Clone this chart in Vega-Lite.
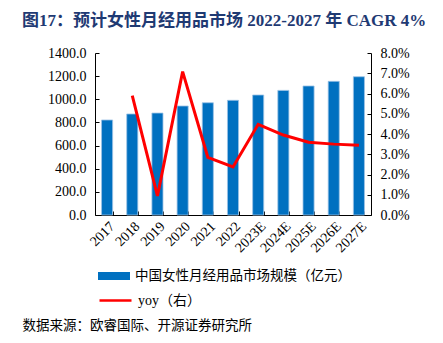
{
  "$schema": "https://vega.github.io/schema/vega-lite/v6.json",
  "autosize": "none",
  "width": 276,
  "height": 162,
  "padding": {"left": 95, "top": 53, "right": 72, "bottom": 128},
  "background": "white",
  "title": {
    "text": "图17：预计女性月经用品市场 2022-2027 年 CAGR 4%",
    "anchor": "start",
    "frame": "group",
    "dx": -73,
    "font": "Liberation Serif, Noto Sans CJK SC",
    "fontSize": 17,
    "fontWeight": "bold",
    "color": "#1F3A73",
    "offset": 16
  },
  "config": {
    "view": {"stroke": null},
    "axis": {
      "labelFont": "Liberation Serif",
      "labelFontSize": 14,
      "labelColor": "#000000",
      "domainColor": "#000000",
      "tickColor": "#000000",
      "grid": false
    }
  },
  "data": {
    "values": [
      {"year": "2017", "value": 821, "yoy": null},
      {"year": "2018", "value": 873, "yoy": 0.0589},
      {"year": "2019", "value": 881, "yoy": 0.0094},
      {"year": "2020", "value": 942, "yoy": 0.0708},
      {"year": "2021", "value": 970, "yoy": 0.0285},
      {"year": "2022", "value": 991, "yoy": 0.0237},
      {"year": "2023E", "value": 1037, "yoy": 0.0448},
      {"year": "2024E", "value": 1077, "yoy": 0.0395},
      {"year": "2025E", "value": 1115, "yoy": 0.0359},
      {"year": "2026E", "value": 1155, "yoy": 0.035},
      {"year": "2027E", "value": 1195, "yoy": 0.0345}
    ]
  },
  "encoding": {
    "x": {
      "field": "year",
      "type": "ordinal",
      "sort": null,
      "scale": {"paddingInner": 0.56, "paddingOuter": 0.26},
      "axis": {
        "labelAngle": -45,
        "tickBand": "extent",
        "tickSize": -4,
        "labelPadding": 8,
        "title": "数据来源：欧睿国际、开源证券研究所",
        "titleX": -73,
        "titleY": 110,
        "titleAlign": "left",
        "titleAnchor": null,
        "titleBaseline": "middle",
        "titleFont": "Noto Sans CJK SC",
        "titleFontSize": 13.5,
        "titleFontWeight": "normal",
        "titleColor": "#000000"
      }
    }
  },
  "layer": [
    {
      "mark": {"type": "bar", "stroke": "#9DC3E6", "strokeWidth": 0.8},
      "encoding": {
        "y": {
          "field": "value",
          "type": "quantitative",
          "scale": {"domain": [0, 1400], "nice": false},
          "axis": {
            "orient": "left",
            "values": [0, 200, 400, 600, 800, 1000, 1200, 1400],
            "format": ".1f",
            "title": null,
            "tickSize": -4,
            "labelPadding": 13
          }
        },
        "fill": {
          "datum": "中国女性月经用品市场规模（亿元）",
          "scale": {"range": ["#0070C0"]},
          "legend": {
            "title": null,
            "orient": "none",
            "legendX": 3,
            "legendY": 207,
            "padding": 0,
            "symbolType": "M-1,-0.25H1V0.25H-1Z",
            "symbolSize": 1024,
            "symbolStrokeWidth": 0,
            "labelFont": "Noto Sans CJK SC",
            "labelFontSize": 13.5,
            "labelColor": "#000000",
            "labelOffset": 5,
            "labelLimit": 0
          }
        }
      }
    },
    {
      "mark": {"type": "line", "strokeWidth": 3},
      "encoding": {
        "y": {
          "field": "yoy",
          "type": "quantitative",
          "scale": {"domain": [0, 0.08], "nice": false},
          "axis": {
            "orient": "right",
            "values": [0, 0.01, 0.02, 0.03, 0.04, 0.05, 0.06, 0.07, 0.08],
            "format": ".1%",
            "title": null,
            "tickSize": -4,
            "labelPadding": 13
          }
        },
        "stroke": {
          "datum": "yoy（右）",
          "scale": {"range": ["#FF0000"]},
          "legend": {
            "title": null,
            "orient": "none",
            "legendX": 3,
            "legendY": 230,
            "padding": 0,
            "symbolType": "stroke",
            "symbolSize": 1024,
            "symbolStrokeWidth": 2.5,
            "labelFont": "Liberation Serif, Noto Sans CJK SC",
            "labelFontSize": 14,
            "labelColor": "#000000",
            "labelOffset": 5,
            "labelLimit": 0
          }
        }
      }
    }
  ],
  "resolve": {"scale": {"y": "independent", "fill": "independent", "stroke": "independent"}}
}
